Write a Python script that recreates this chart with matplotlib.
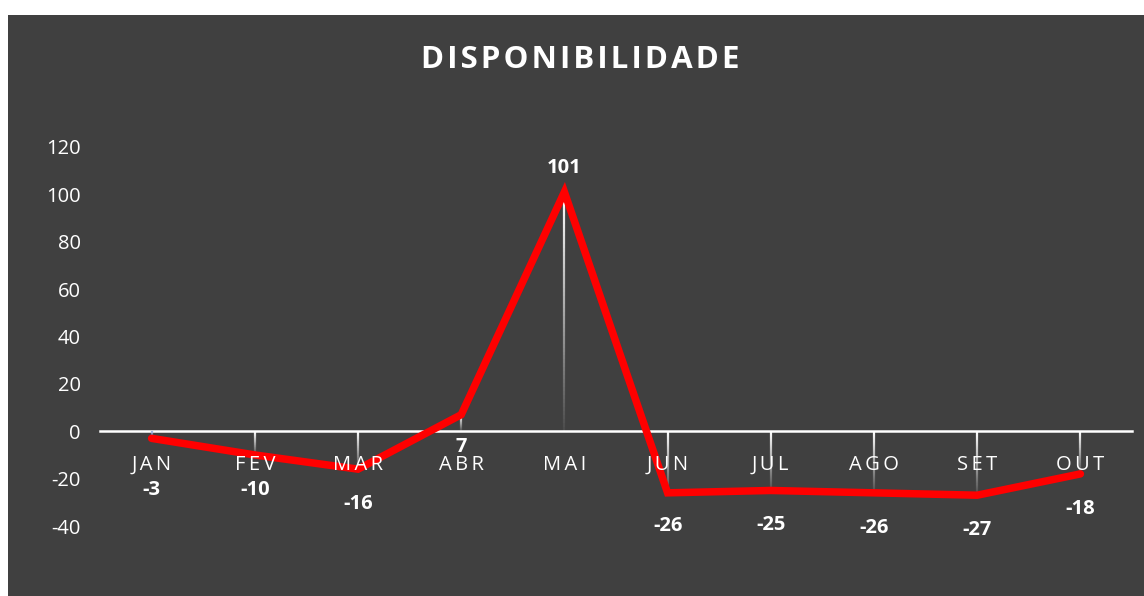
import numpy as np
import matplotlib
matplotlib.use('Agg')
import matplotlib.pyplot as plt
from matplotlib.collections import LineCollection
from matplotlib.patches import Rectangle

# Chart data
months = ['JAN', 'FEV', 'MAR', 'ABR', 'MAI', 'JUN', 'JUL', 'AGO', 'SET', 'OUT']
values = [-3, -10, -16, 7, 101, -26, -25, -26, -27, -18]
y_ticks = [-40, -20, 0, 20, 40, 60, 80, 100, 120]

BG = '#404040'
FONT = ['Open Sans', 'DejaVu Sans']
THIN = '\u2009'
HAIR = '\u200a'

plt.rcParams['font.family'] = FONT

fig = plt.figure(figsize=(11.44, 5.96), dpi=100, facecolor='white')
fig.patches.append(Rectangle((8 / 1144, 0), 1 - 8 / 1144, 1 - 15 / 596,
                             transform=fig.transFigure, facecolor=BG,
                             edgecolor='none', zorder=-10))

ax = fig.add_axes([100 / 1144, 1 - 526 / 596, 1032 / 1144, 379 / 596])
ax.set_facecolor('none')
ax.set_zorder(1)
x = np.arange(len(months))

# drop lines, white fading downwards
segs, cols = [], []
n = 60
for xi, v in zip(x, values):
    lo, hi = min(0, v), max(0, v)
    ys = np.linspace(hi, lo, n + 1)
    for k in range(n):
        segs.append([(xi, ys[k]), (xi, ys[k + 1])])
        a = 1 - 0.95 * k / n
        cols.append((1, 1, 1, a) if xi != 0 else (0.6, 0.7, 0.9, a))
ax.add_collection(LineCollection(segs, colors=cols, linewidths=1.6, zorder=2))

ax.plot(x, values, color='#ff0000', lw=5.4, solid_capstyle='round',
        solid_joinstyle='miter', zorder=3)

# data labels
offsets = [-37, -25, -25, -23, 17, -24, -25, -25, -25, -25]
for xi, v, off in zip(x, values, offsets):
    ax.annotate(str(v), (xi, v), xytext=(0, off), textcoords='offset points',
                ha='center', va='center', color='white', fontsize=14.5,
                fontweight='bold', zorder=4)

ax.set_xlim(-0.5, len(months) - 0.5)
ax.set_ylim(-40, 120)
ax.set_yticks(y_ticks)
ax.set_yticklabels([str(t) for t in y_ticks])
ax.set_xticks(x)
ax.set_xticklabels([THIN.join(m) for m in months])
ax.xaxis.set_zorder(5)

for s in ['left', 'right', 'top']:
    ax.spines[s].set_visible(False)
ax.spines['bottom'].set_position(('data', 0))
ax.spines['bottom'].set_color('white')
ax.spines['bottom'].set_linewidth(1.8)
ax.spines['bottom'].set_zorder(1)

ax.tick_params(axis='y', length=0, pad=14, labelsize=14.5, labelcolor='white')
ax.tick_params(axis='x', length=0, pad=17, labelsize=14.5, labelcolor='white')

fig.text(580 / 1144, 1 - 60 / 596, HAIR.join('DISPONIBILIDADE'), ha='center',
         va='center', color='white', fontsize=22.5, fontweight='bold')

fig.savefig('out.png', dpi=100, facecolor='white')
